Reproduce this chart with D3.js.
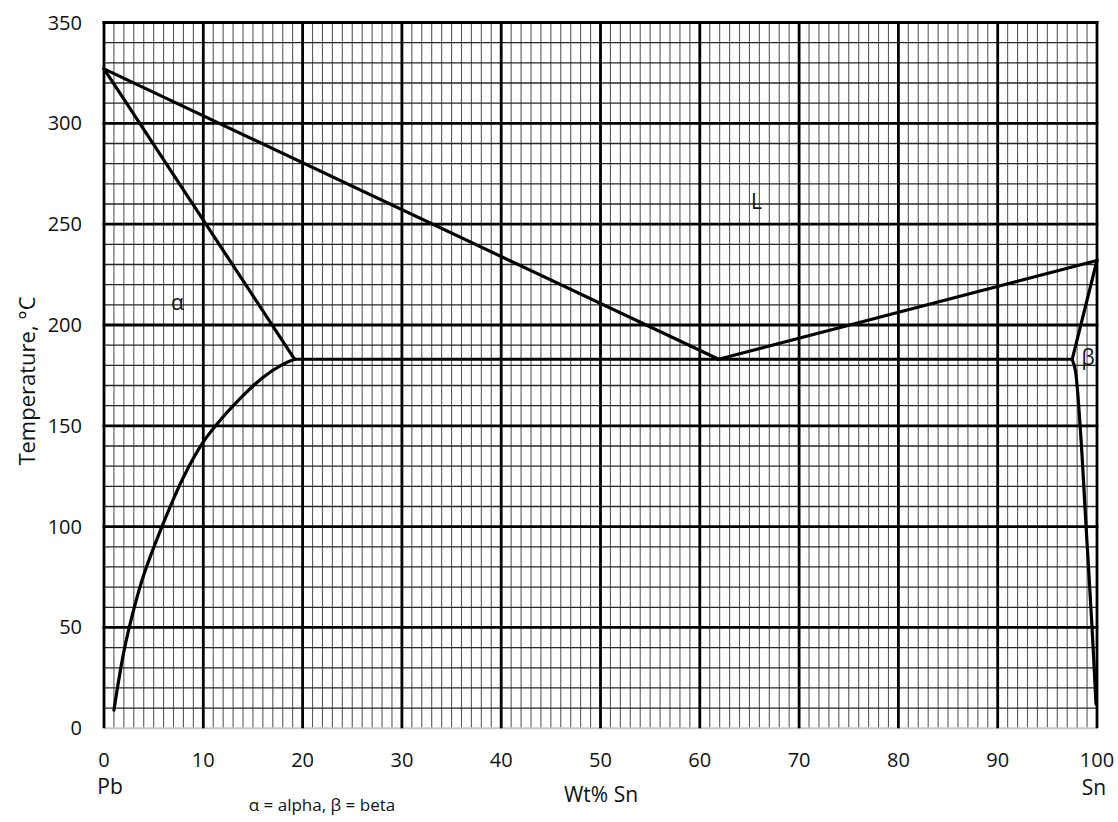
<!DOCTYPE html>
<html>
<head>
<meta charset="utf-8">
<script src="https://cdn.jsdelivr.net/npm/d3@7"></script>
<style>
  html, body { margin: 0; padding: 0; background: #fff; }
  svg { display: block; font-family: "Open Sans", "Noto Sans", sans-serif; }
</style>
</head>
<body>
<svg id="chart" width="1118" height="822"></svg>
<script>
// ---- data ----
const xTicks = [0, 10, 20, 30, 40, 50, 60, 70, 80, 90, 100];
const yTicks = [0, 50, 100, 150, 200, 250, 300, 350];
const xMinor = d3.range(0, 101, 1);
const yMinor = d3.range(0, 351, 10);

const liquidusLeft  = [[0, 327], [61.9, 183]];
const liquidusRight = [[61.9, 183], [100, 232]];
const solidusAlpha  = [[0, 327], [19.2, 183]];
const solvusAlpha   = [[19.2, 183], [18, 180.5], [16, 174], [14, 165], [12, 154.5], [10, 142],
                       [8, 124.5], [6, 102], [4, 76], [3, 59], [2, 38], [1, 9]];
const eutectic      = [[19.2, 183], [97.5, 183]];
const solidusBeta   = [[100, 232], [97.5, 183]];
const solvusBeta    = [[97.5, 183], [97.8, 178], [98.3, 150], [98.9, 100], [99.5, 50], [99.9, 12]];

const phaseLabels = [
  { text: "α", x: 7.4, y: 211 },
  { text: "L", x: 65.7, y: 261 },
  { text: "β", x: 99.1, y: 184 }
];

// ---- layout ----
const svg = d3.select("#chart");
const plotL = 104, plotR = 1097, plotT = 22.5, plotB = 728.3;
const x = d3.scaleLinear().domain([0, 100]).range([plotL, plotR]);
const y = d3.scaleLinear().domain([0, 350]).range([plotB, plotT]);

const grid = svg.append("g");
// minor vertical
grid.selectAll("line.vmin").data(xMinor.filter(d => d % 10 !== 0)).join("line")
  .attr("x1", d => x(d)).attr("x2", d => x(d))
  .attr("y1", y(0)).attr("y2", y(350))
  .attr("stroke", "#5a5a5a").attr("stroke-width", 1.1);
// minor horizontal
grid.selectAll("line.hmin").data(yMinor.filter(d => d % 50 !== 0)).join("line")
  .attr("x1", x(0)).attr("x2", x(100))
  .attr("y1", d => y(d)).attr("y2", d => y(d))
  .attr("stroke", "#262626").attr("stroke-width", 1.3);
// bottom axis line
grid.append("line")
  .attr("x1", x(0)).attr("x2", x(100)).attr("y1", y(0)).attr("y2", y(0))
  .attr("stroke", "#c8c8c8").attr("stroke-width", 2);
// major horizontal
grid.selectAll("line.hmaj").data(yTicks.filter(d => d > 0)).join("line")
  .attr("x1", x(0) - 1.4).attr("x2", x(100) + 1.4)
  .attr("y1", d => y(d)).attr("y2", d => y(d))
  .attr("stroke", "#000").attr("stroke-width", 2.8);
// major vertical
grid.selectAll("line.vmaj").data(xTicks).join("line")
  .attr("x1", d => x(d)).attr("x2", d => x(d))
  .attr("y1", y(0)).attr("y2", y(350) - 1.4)
  .attr("stroke", "#000").attr("stroke-width", 2.8);

// ---- phase lines ----
const straight = d3.line().x(d => x(d[0])).y(d => y(d[1]));
const smooth = d3.line().x(d => x(d[0])).y(d => y(d[1])).curve(d3.curveCatmullRom.alpha(0.5));
const lines = svg.append("g").attr("fill", "none").attr("stroke", "#000")
  .attr("stroke-width", 3.2).attr("stroke-linejoin", "round").attr("stroke-linecap", "round");
[liquidusLeft, liquidusRight, solidusAlpha, eutectic, solidusBeta].forEach(d =>
  lines.append("path").attr("d", straight(d)));
[solvusAlpha, solvusBeta].forEach(d =>
  lines.append("path").attr("d", smooth(d)));

// ---- axis tick labels ----
const fs = 20;
svg.append("g").selectAll("text").data(yTicks).join("text")
  .attr("x", 82).attr("y", d => y(d)).attr("dy", "0.35em")
  .attr("text-anchor", "end").attr("font-size", fs).attr("fill", "#111")
  .text(d => d);
svg.append("g").selectAll("text").data(xTicks).join("text")
  .attr("x", d => x(d)).attr("y", 767)
  .attr("text-anchor", "middle").attr("font-size", fs).attr("fill", "#111")
  .text(d => d);

svg.append("text").attr("x", 110).attr("y", 794).attr("text-anchor", "middle")
  .attr("font-size", fs + 1).attr("fill", "#111").text("Pb");
svg.append("text").attr("x", 1094).attr("y", 795).attr("text-anchor", "middle")
  .attr("font-size", fs + 1).attr("fill", "#111").text("Sn");
svg.append("text").attr("x", 601).attr("y", 802).attr("text-anchor", "middle")
  .attr("font-size", fs + 1).attr("fill", "#111").text("Wt% Sn");
svg.append("text").attr("x", 322).attr("y", 811).attr("text-anchor", "middle")
  .attr("font-size", 17).attr("fill", "#111").text("α = alpha, β = beta");
svg.append("text")
  .attr("transform", "translate(35,381) rotate(-90)")
  .attr("text-anchor", "middle").attr("font-size", 22).attr("fill", "#111")
  .text("Temperature, °C");

// ---- phase labels ----
svg.append("g").selectAll("text").data(phaseLabels).join("text")
  .attr("x", d => x(d.x)).attr("y", d => y(d.y)).attr("dy", "0.35em")
  .attr("text-anchor", "middle").attr("font-size", fs + 1).attr("fill", "#111")
  .text(d => d.text);
</script>
</body>
</html>
